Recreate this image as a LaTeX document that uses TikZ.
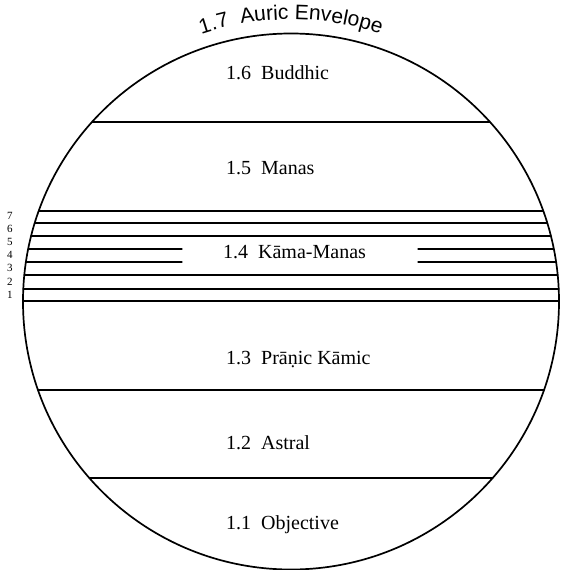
\documentclass[tikz,border=0pt]{standalone}
\usepackage{fontspec}
\setmainfont{Liberation Serif}
\setsansfont{Liberation Sans}
\usetikzlibrary{decorations.text}
\begin{document}
\begin{tikzpicture}[x=1pt, y=1pt, line cap=round,
  layer/.style={font=\fontsize{20}{24}\selectfont, anchor=base west, inner sep=0pt},
  band/.style={line width=1.3pt}]
  \useasboundingbox (-291,-268.5) rectangle (275,301.5);
  % 1. 外圈
  \draw[line width=1.7pt] (0,0) circle[radius=268];

  % 2. 分层线（端点落在圆上）
  \foreach \y in {179.5, 90.5, 78.5, 65.5, 26.5, 12.5, 0.5, -88.5, -176.5}
    \draw[band] ({-268*cos(asin(\y/268))},\y) -- ({268*cos(asin(\y/268))},\y);
  \foreach \y in {52.5, 39.5} {
    \draw[band] ({-268*cos(asin(\y/268))},\y) -- (-109,\y);
    \draw[band] (127,\y) -- ({268*cos(asin(\y/268))},\y);
  }

  % 3. 各层名称
  \node[layer] (buddhic)   at (-65,221.5) {1.6\enspace Buddhic};
  \node[layer] (manas)     at (-65,126.5) {1.5\enspace Manas};
  \node[layer] (kama)      at (-68,43.5)  {1.4\enspace Kāma-Manas};
  \node[layer] (pranic)    at (-65,-62.5) {1.3\enspace Prāṇic Kāmic};
  \node[layer] (astral)    at (-65,-147.5) {1.2\enspace Astral};
  \node[layer] (objective) at (-65,-227.5) {1.1\enspace Objective};

  % 4. 左侧编号
  \foreach \i/\y in {7/85.5, 6/72.5, 5/59.5, 4/46.5, 3/33.5, 2/19.5, 1/6.5}
    \node[font=\fontsize{11}{11}\selectfont, inner sep=0pt] (n\i) at (-281,\y) {\i};

  % 5. 弧形标题
  \path[decorate, decoration={text along path, text align=center,
      text={|\sffamily\fontsize{21}{21}\selectfont|1.7 \ Auric Envelope}}]
    (115:282) arc[start angle=115, end angle=65, radius=282];
\end{tikzpicture}
\end{document}
